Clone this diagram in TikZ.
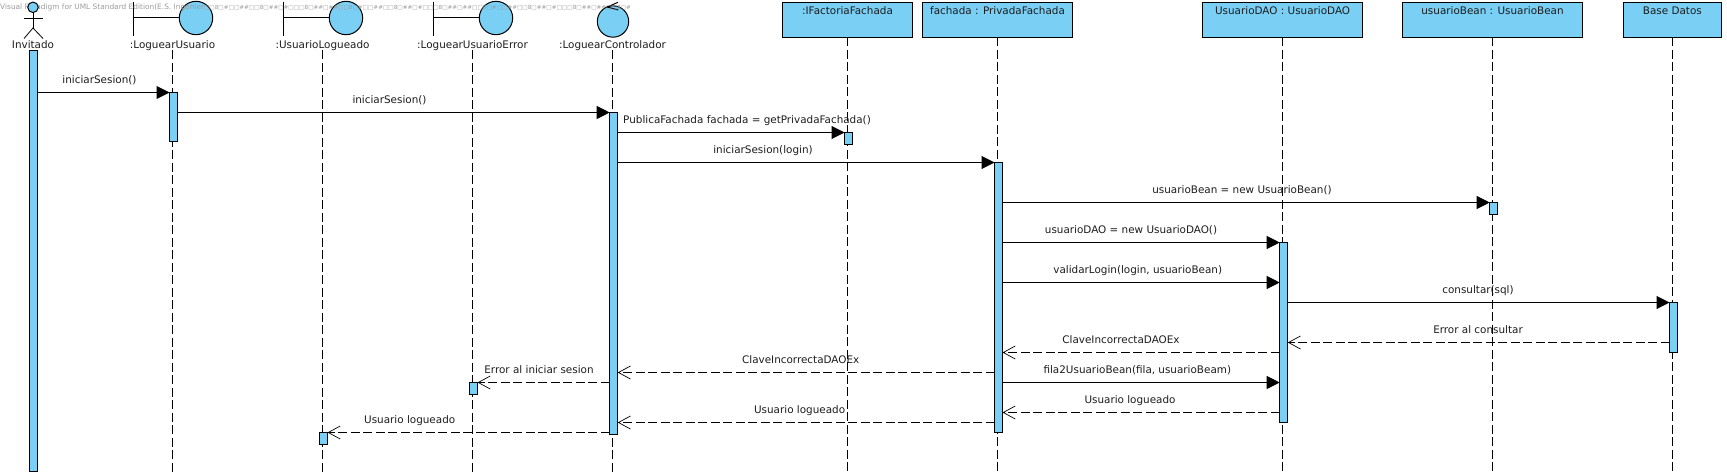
\documentclass[tikz,border=0pt]{standalone}
\usepackage{fontspec}
\setmainfont{DejaVu Sans}
\definecolor{vpblue}{HTML}{7ACFF5}
\definecolor{vptext}{HTML}{1C1C1C}
\definecolor{vpgrey}{HTML}{9C9C9C}
\usetikzlibrary{arrows.meta}
\usetikzlibrary{calc}
\tikzset{
	objbox/.style={draw,fill=vpblue,line width=1pt,inner sep=0pt,outer sep=0pt,minimum height=35pt,text height=12pt,text depth=23pt,text=vptext,font=\fontsize{10.4}{12}\selectfont},
	objname/.style={anchor=base,inner sep=0pt,text height=8pt,text depth=1.5pt,text=vptext,font=\fontsize{10.4}{12}\selectfont},
	objcirc/.style={circle,draw,fill=vpblue,line width=1pt,inner sep=0pt,outer sep=0pt},
	activ/.style={draw,fill=vpblue,line width=1pt,inner sep=0pt,outer sep=0pt,minimum width=8pt,anchor=north},
	lifeline/.style={line width=0.9pt,dash pattern=on 9pt off 3.5pt},
	callmsg/.style={line width=1pt,-{Triangle[length=13pt,width=13pt]}},
	backmsg/.style={line width=0.9pt,dash pattern=on 9pt off 3.5pt,-{Straight Barb[length=12pt,width=13pt,line width=0.7pt]}},
	msgtext/.style={anchor=base,inner sep=0pt,text=vptext,font=\fontsize{10.4}{12}\selectfont},
}
\begin{document}
\begin{tikzpicture}[x=1pt,y=-1pt]
	\useasboundingbox (0,0) rectangle (1727,476);
	%boundary objects
	\foreach \nm/\cx/\lx/\txt in {LU/196/172.5/:LoguearUsuario, UL/346/322.5/:UsuarioLogueado, LE/496/472.5/:LoguearUsuarioError}
	{
		\node[objcirc,minimum size=33.4pt] (c\nm) at (\cx,18) {};
		\node[objname] (n\nm) at (\lx,48.5) {\txt};
		\coordinate (t\nm) at (\cx-62.5,2);
		\draw[line width=1pt] (t\nm) -- ++(0,34);
		\draw[line width=1pt] (c\nm.west) -- (t\nm |- c\nm.west);
		\draw[lifeline] (n\nm.south) -- (n\nm.south |- 0,472);
	}
	%controller
	\node[objcirc,minimum size=31.4pt] (cLC) at (613,21.5) {};
	\node[objname] (nLC) at (612.5,48.5) {:LoguearControlador};
	\coordinate (tipLC) at (607.3,7);
	\draw[line width=1pt] (618,2.3) -- (tipLC) -- (618.3,10);
	\draw[lifeline] (nLC.south) -- (nLC.south |- 0,472);
	%boxes on top
	\foreach \nm/\cx/\bw/\txt in {FF/847.5/129.4/:IFactoriaFachada, PF/997.5/149.4/fachada : PrivadaFachada, DAO/1282.6/159.5/UsuarioDAO : UsuarioDAO, UB/1492.5/179.3/usuarioBean : UsuarioBean, BD/1672.4/98.4/Base Datos}
	{
		\node[objbox,minimum width=\bw pt] (b\nm) at (\cx,19.8) {\txt};
		\draw[lifeline] (b\nm.south) -- (b\nm.south |- 0,472);
	}
	\node[anchor=base west,inner sep=0pt,text=vpgrey,font=\fontsize{7.4}{9}\selectfont] (wmark) at (0,10) {Visual Paradigm for UML Standard Edition(E.S. Ingenier{\fontsize{5.7}{9}\selectfont □□8□\#□□\#\#□□8□\#\#□\#□□□8□\#\#□\#\#□□8□\#□□\#\#□□8□\#\#□\#□□□8□\#\#□\#\#□□8□\#□□\#\#□□8□\#\#□\#□□□8□\#\#□\#\#□□8□\#}};
	%actor
	\node[objcirc,minimum size=10.5pt] (head) at (33,7.3) {};
	\node[objname] (nInv) at (33,48.5) {Invitado};
	\coordinate (hip) at (33,28);
	\draw[line width=0.8pt] (head.south) -- (hip);
	\draw[line width=0.8pt] (24,18) -- (43,18);
	\draw[line width=0.8pt] (24,38.5) -- (hip) -- (43,38.5);
	%activation bars
	\foreach \nm/\cx/\ty/\by in {aInv/33.5/51/471.7, aLU/173.5/92.5/141.5, aUL/323.5/432.5/444.5, aLE/473.5/382.5/394.5, aLC/613.7/112.5/434.3, aFF/848.5/132.5/144.5, aPF/998.5/162.5/432.5, aDAO/1283.7/242.5/422.5, aUB/1493.7/202.5/214.5, aBD/1673.5/302.5/352.5}
	\node[activ,minimum height={(\by-\ty)*1pt}] (\nm) at (\cx,\ty) {};
	%calls
	\foreach \src/\dst/\yy/\lx/\txt in {aInv/aLU/92.5/99.5/iniciarSesion(), aLU/aLC/112.5/389.5/iniciarSesion(), aLC/aFF/132.5/747/PublicaFachada fachada = getPrivadaFachada(), aLC/aPF/162.5/763/iniciarSesion(login), aPF/aUB/202.5/1242/usuarioBean = new UsuarioBean(), aPF/aDAO/242.5/1131/usuarioDAO = new UsuarioDAO(), aPF/aDAO/282.5/1137.7/{validarLogin(login, usuarioBean)}, aDAO/aBD/302.5/1478/consultar(sql), aPF/aDAO/382.5/1137.3/{fila2UsuarioBean(fila, usuarioBeam)}}
	{
		\draw[callmsg] (\src.east |- 0,\yy) -- (\dst.west |- 0,\yy);
		\node[msgtext] at (\lx,\yy-9) {\txt};
	}
	%returns
	\foreach \src/\dst/\yy/\lx/\txt in {aBD/aDAO/342.5/1478/Error al consultar, aDAO/aPF/352.5/1121/ClaveIncorrectaDAOEx, aPF/aLC/372.5/800.7/ClaveIncorrectaDAOEx, aLC/aLE/382.5/539/Error al iniciar sesion, aDAO/aPF/412.5/1130/Usuario logueado, aPF/aLC/422.5/799.6/Usuario logueado, aLC/aUL/432.5/409.7/Usuario logueado}
	{
		\draw[backmsg] (\src.west |- 0,\yy) -- (\dst.east |- 0,\yy);
		\node[msgtext] at (\lx,\yy-9) {\txt};
	}
\end{tikzpicture}
\end{document}
